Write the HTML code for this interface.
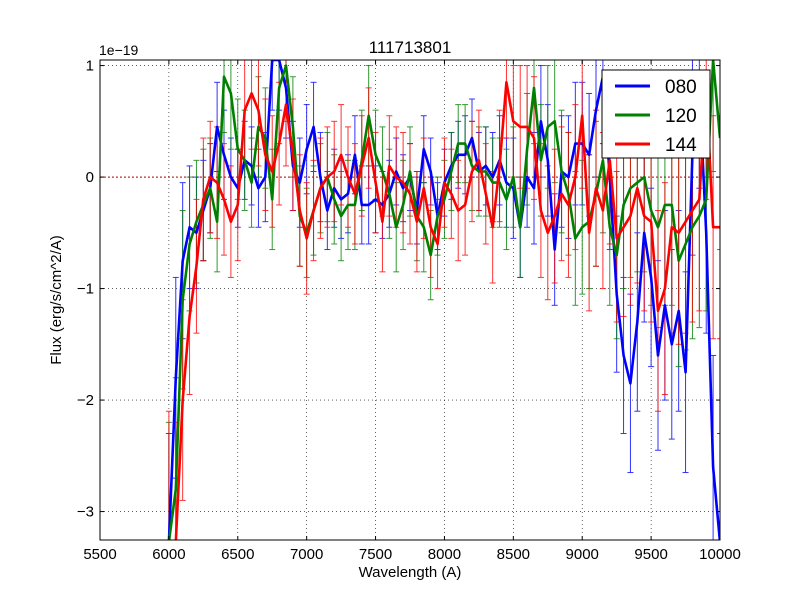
<!DOCTYPE html>
<html><head><meta charset="utf-8"><style>
html,body{margin:0;padding:0;background:#fff;width:800px;height:600px;overflow:hidden;}
svg{display:block;font-family:"Liberation Sans","DejaVu Sans",sans-serif;}
</style></head><body>
<svg id="chart" width="800" height="600" viewBox="0 0 800 600">
<rect width="800" height="600" fill="#fff"/>
<defs><clipPath id="pc"><rect x="100" y="60" width="620" height="480"/></clipPath></defs>
<g id="grid"></g>
<g id="series" clip-path="url(#pc)"></g>
<rect x="100" y="60" width="620" height="480" fill="none" stroke="#000" stroke-width="1"/>
<g id="ticks"></g>
<text x="410" y="53" text-anchor="middle" font-size="17">111713801</text>
<text x="99" y="55" font-size="14">1e−19</text>
<text x="410" y="577" text-anchor="middle" font-size="15">Wavelength (A)</text>
<text transform="translate(61,300) rotate(-90)" text-anchor="middle" font-size="15">Flux (erg/s/cm^2/A)</text>
<g id="legend">
<rect x="602" y="70" width="108" height="88" fill="#fff" stroke="#000"/>
<line x1="615" y1="86" x2="650" y2="86" stroke="#0000ff" stroke-width="3"/>
<text x="665" y="93" font-size="19">080</text>
<line x1="615" y1="115" x2="650" y2="115" stroke="#008000" stroke-width="3"/>
<text x="665" y="122" font-size="19">120</text>
<line x1="615" y1="144" x2="650" y2="144" stroke="#ff0000" stroke-width="3"/>
<text x="665" y="151" font-size="19">144</text>
</g>
</svg>
<script>
const xTicks=[5500,6000,6500,7000,7500,8000,8500,9000,9500,10000];
const yTicks=[-3,-2,-1,0,1];
const yTickLabels=["−3","−2","−1","0","1"];
const wavelengthStart=6000, wavelengthStep=50;
const flux080=[-3.3,-1.8,-0.75,-0.45,-0.5,-0.3,-0.1,0.45,0.2,0.0,-0.1,0.15,0.1,-0.1,0.0,1.05,1.05,0.8,0.1,-0.05,0.25,0.45,0.0,-0.3,-0.1,-0.2,-0.15,0.2,-0.25,-0.25,-0.2,-0.25,-0.15,0.05,-0.1,0.0,-0.3,0.25,0.05,-0.35,-0.05,0.1,0.2,0.2,0.35,0.05,0.1,0.0,0.15,-0.05,-0.1,-0.45,0.0,-0.1,0.5,0.15,-0.65,0.05,0.0,0.3,0.3,0.2,0.6,0.9,0.0,-1.05,-1.6,-1.85,-1.3,-0.5,-0.9,-1.6,-1.15,-1.5,-1.2,-1.75,0.2,0.8,-0.5,-2.6,-3.3];
const flux120=[-3.3,-2.8,-1.1,-0.6,-0.4,-0.25,-0.1,-0.4,0.9,0.75,0.25,0.15,-0.05,0.45,0.35,-0.2,0.8,1.0,0.45,-0.35,-0.5,-0.3,-0.1,0.0,-0.2,-0.35,-0.25,-0.25,0.15,0.55,0.2,0.05,-0.15,-0.45,-0.25,0.05,-0.35,-0.45,-0.7,-0.35,-0.2,0.05,0.3,0.3,0.1,0.05,0.05,-0.05,-0.05,-0.2,0.0,-0.45,0.25,0.8,0.15,0.45,0.5,0.05,-0.15,-0.55,-0.45,-0.4,-0.15,0.15,-0.45,-0.7,-0.25,-0.1,-0.05,0.0,-0.3,-0.45,-0.25,-0.25,-0.75,-0.6,-0.45,-0.35,-0.2,1.05,0.35];
const flux144=[-3.3,-3.3,-2.0,-1.25,-0.8,-0.2,0.0,-0.05,-0.2,-0.4,-0.25,0.6,0.75,0.6,0.2,0.05,0.3,0.65,0.2,-0.3,-0.55,-0.3,-0.1,0.0,0.05,0.2,0.0,-0.15,0.1,0.35,-0.05,-0.4,0.1,0.0,-0.05,-0.15,-0.4,-0.1,-0.45,-0.6,-0.05,-0.15,-0.3,-0.25,0.05,0.15,-0.15,-0.45,0.1,0.85,0.5,0.45,0.45,0.35,-0.3,-0.5,-0.35,-0.15,-0.25,0.0,0.55,-0.5,-0.1,-0.3,0.15,-0.55,-0.45,-0.35,-0.1,-0.35,-0.4,-1.2,-1.0,-0.45,-0.5,-0.4,-0.3,-0.2,0.8,-0.45,-0.45];
const err080=[1.0,0.9,0.7,0.55,0.5,0.45,0.4,0.4,0.4,0.35,0.35,0.35,0.35,0.35,0.4,0.45,0.45,0.45,0.4,0.4,0.4,0.4,0.4,0.35,0.35,0.35,0.35,0.35,0.35,0.35,0.3,0.3,0.3,0.3,0.3,0.3,0.3,0.3,0.3,0.3,0.3,0.3,0.3,0.35,0.35,0.35,0.35,0.4,0.4,0.4,0.45,0.45,0.45,0.5,0.5,0.5,0.5,0.5,0.55,0.55,0.55,0.55,0.6,0.6,0.65,0.7,0.7,0.8,0.8,0.8,0.8,0.85,0.85,0.85,0.9,0.9,0.9,0.9,0.9,1.0,1.0];
const err120=[1.1,1.0,0.8,0.6,0.55,0.5,0.45,0.45,0.5,0.5,0.45,0.45,0.4,0.45,0.45,0.45,0.5,0.5,0.45,0.45,0.4,0.4,0.4,0.4,0.4,0.4,0.4,0.4,0.45,0.45,0.4,0.4,0.4,0.4,0.4,0.4,0.4,0.4,0.4,0.35,0.35,0.35,0.35,0.35,0.4,0.4,0.4,0.4,0.4,0.45,0.45,0.45,0.5,0.5,0.5,0.55,0.55,0.55,0.55,0.6,0.6,0.6,0.65,0.65,0.7,0.75,0.75,0.8,0.8,0.85,0.85,0.9,0.9,0.9,0.95,0.95,1.0,1.0,1.0,1.0,1.0];
const err144=[1.2,1.1,0.9,0.7,0.6,0.55,0.5,0.5,0.5,0.5,0.5,0.5,0.5,0.5,0.5,0.5,0.55,0.55,0.5,0.5,0.5,0.45,0.45,0.45,0.45,0.45,0.45,0.45,0.45,0.45,0.45,0.45,0.45,0.45,0.45,0.45,0.45,0.45,0.45,0.4,0.4,0.4,0.45,0.45,0.45,0.45,0.45,0.5,0.5,0.5,0.5,0.55,0.55,0.55,0.6,0.6,0.6,0.6,0.65,0.65,0.65,0.7,0.7,0.7,0.75,0.75,0.8,0.8,0.85,0.85,0.9,0.9,0.95,0.95,1.0,1.0,1.0,1.0,1.0,1.0,1.0];
const seriesNames=["080","120","144"];
const seriesColors=["#0000ff","#008000","#ff0000"];

const NS="http://www.w3.org/2000/svg";
const L=100,R=720,T=60,B=540,X0=5500,X1=10000,Y0=-3.255,Y1=1.05;
function sx(v){return L+(v-X0)/(X1-X0)*(R-L);}
function sy(v){return B-(v-Y0)/(Y1-Y0)*(B-T);}
function cy(v){return Math.max(T-2,Math.min(B+2,sy(v)));}
function mk(tag,attrs,parent){const e=document.createElementNS(NS,tag);for(const k in attrs)e.setAttribute(k,attrs[k]);parent.appendChild(e);return e;}
const grid=document.getElementById('grid'),ticks=document.getElementById('ticks'),ser=document.getElementById('series');
xTicks.forEach((t,i)=>{const x=sx(t);
 const g=mk('line',{x1:x,x2:x,y1:T,y2:B,stroke:'#000','stroke-dasharray':'1,3','stroke-width':0.6},grid);
 
 
 mk('line',{x1:x,x2:x,y1:B,y2:B-4,stroke:'#000'},ticks);
 mk('line',{x1:x,x2:x,y1:T,y2:T+4,stroke:'#000'},ticks);
 const lb=mk('text',{x:x,y:B+19,'text-anchor':'middle','font-size':15},ticks);lb.textContent=t;
 
 
});
yTicks.forEach((t,i)=>{const y=sy(t);
 const g=mk('line',{x1:L,x2:R,y1:y,y2:y,stroke:'#000','stroke-dasharray':'1,3','stroke-width':0.6},grid);
 
 
 mk('line',{x1:L,x2:L+4,y1:y,y2:y,stroke:'#000'},ticks);
 mk('line',{x1:R,x2:R-4,y1:y,y2:y,stroke:'#000'},ticks);
 const lb=mk('text',{x:L-6,y:y+5,'text-anchor':'end','font-size':15},ticks);lb.textContent=yTickLabels[i];
 
 
});
const z=mk('line',{x1:L,x2:R,y1:sy(0),y2:sy(0),stroke:'#c00','stroke-dasharray':'2,2','stroke-width':1},grid);


const fluxes=[flux080,flux120,flux144],errs=[err080,err120,err144];
fluxes.forEach((f,s)=>{
 const col=seriesColors[s];
 const eg=mk('g',{stroke:col,'stroke-width':1,opacity:0.8},ser);
 
 
 f.forEach((v,i)=>{const w=wavelengthStart+i*wavelengthStep,x=sx(w),e=errs[s][i]??0.5;
  const a=cy(v+e),b=cy(v-e);
  mk('line',{x1:x,x2:x,y1:a,y2:b},eg);
  mk('line',{x1:x-3,x2:x+3,y1:a,y2:a},eg);
  mk('line',{x1:x-3,x2:x+3,y1:b,y2:b},eg);
 });
});
fluxes.forEach((f,s)=>{
 const pts=f.map((v,i)=>sx(wavelengthStart+i*wavelengthStep).toFixed(1)+','+cy(v).toFixed(1)).join(' ');
 const p=mk('polyline',{points:pts,fill:'none',stroke:seriesColors[s],'stroke-width':2.6,'stroke-linejoin':'round'},ser);
 
 
});
</script>
</body></html>
